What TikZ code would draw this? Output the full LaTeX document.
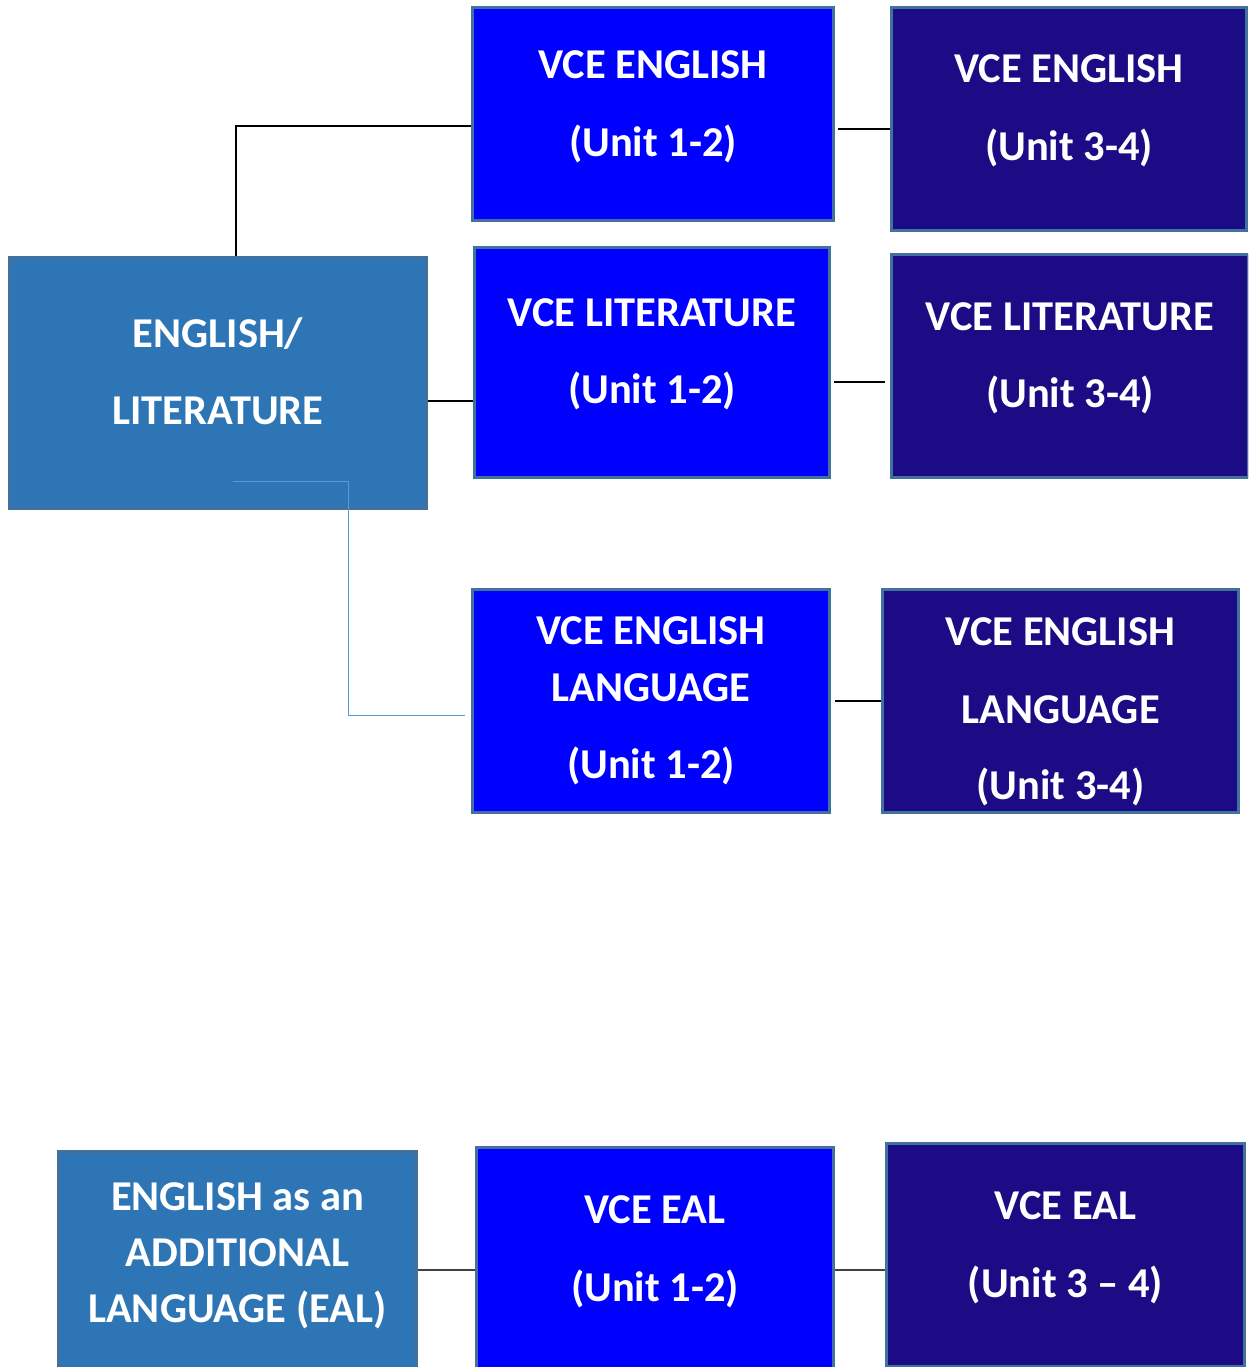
\documentclass[tikz,border=0pt]{standalone}
\usepackage{fontspec}
\setmainfont{Carlito}
\definecolor{elblue}{HTML}{2E75B6}
\definecolor{bord}{HTML}{41719C}
\definecolor{navyc}{HTML}{1B0C86}
\definecolor{lbc}{HTML}{5B9BD5}
\definecolor{dgray}{HTML}{404040}
\newcommand{\dd}[1]{\rule[-#1pt]{0pt}{0pt}}
\tikzset{
  box/.style={draw=bord, line width=3pt, anchor=north west, inner sep=0pt, align=center,
    text=white, font=\bfseries\fontsize{42.5}{78}\selectfont},
  lvlone/.style={box, fill=elblue},
  lvltwo/.style={box, fill=blue},
  lvlthree/.style={box, fill=navyc},
  link/.style={line width=2pt, black},
  linkgray/.style={line width=2pt, dgray},
  lbline/.style={line width=1.5pt, lbc},
}
\begin{document}
\begin{tikzpicture}[x=1pt,y=-1pt]
\clip (0,0) rectangle (1248,1367);
\fill[white] (0,0) rectangle (1248,1367);
% level one
\node[lvlone, minimum width=417, minimum height=251] (EL) at (8,256) {ENGLISH/\\[-1pt]LITERATURE\dd{24}};
\node[lvlone, minimum width=358, minimum height=236, font=\bfseries\fontsize{42.5}{56}\selectfont] (EAL) at (57,1150) {ENGLISH as an\\ADDITIONAL\\LANGUAGE (EAL)\dd{34}};
% level two
\node[lvltwo, minimum width=361, minimum height=213] (B1) at (471,6) {VCE ENGLISH\\(Unit 1-2)\dd{21}};
\node[lvltwo, minimum width=355, minimum height=230] (B2) at (473,246) {VCE LITERATURE\\[-1pt](Unit 1-2)\dd{22}};
\node[lvltwo, minimum width=357, minimum height=223] (B3) at (471,588) {VCE ENGLISH\\[-21pt]LANGUAGE\\[-1pt](Unit 1-2)};
\node[lvltwo, minimum width=357, minimum height=244] (B4) at (475,1146) {VCE EAL\\(Unit 1-2)\dd{42}};
% level three
\node[lvlthree, minimum width=355, minimum height=223] (C1) at (890,6) {VCE ENGLISH\\(Unit 3-4)\dd{23}};
\node[lvlthree, minimum width=357, minimum height=223] (C2) at (890,253) {VCE LITERATURE\\[-1pt](Unit 3-4)\dd{22}};
\node[lvlthree, minimum width=356, minimum height=223] (C3) at (881,588) {\rule{0pt}{49pt}VCE ENGLISH\\LANGUAGE\\[-2pt](Unit 3-4)};
\node[lvlthree, minimum width=358, minimum height=223] (C4) at (885,1142) {VCE EAL\\(Unit 3 – 4)\dd{21}};
% connectors
\draw[link] ([xshift=17.5]EL.north) |- ([yshift=-12.5]B1.west);
\draw[link] ([yshift=-17.5]EL.east) -- ([yshift=-17.5]EL.east -| B2.west);
\draw[lbline] ([xshift=14.5,yshift=-98.5]EL.center) -- ++(116,0) |- ([xshift=-6,yshift=-14.5]B3.west);
\draw[link] ([xshift=3,yshift=-15.5]B1.east) -- ([yshift=-15.5]B1.east -| C1.west);
\draw[link] ([xshift=3,yshift=-19]B2.east) -- ([xshift=-5,yshift=-19]B2.east -| C2.west);
\draw[link] ([xshift=4]B3.east) -- (C3.west);
\draw[linkgray] (EAL.east) -- (B4.west);
\draw[linkgray] (B4.east) -- (B4.east -| C4.west);
\end{tikzpicture}
\end{document}
